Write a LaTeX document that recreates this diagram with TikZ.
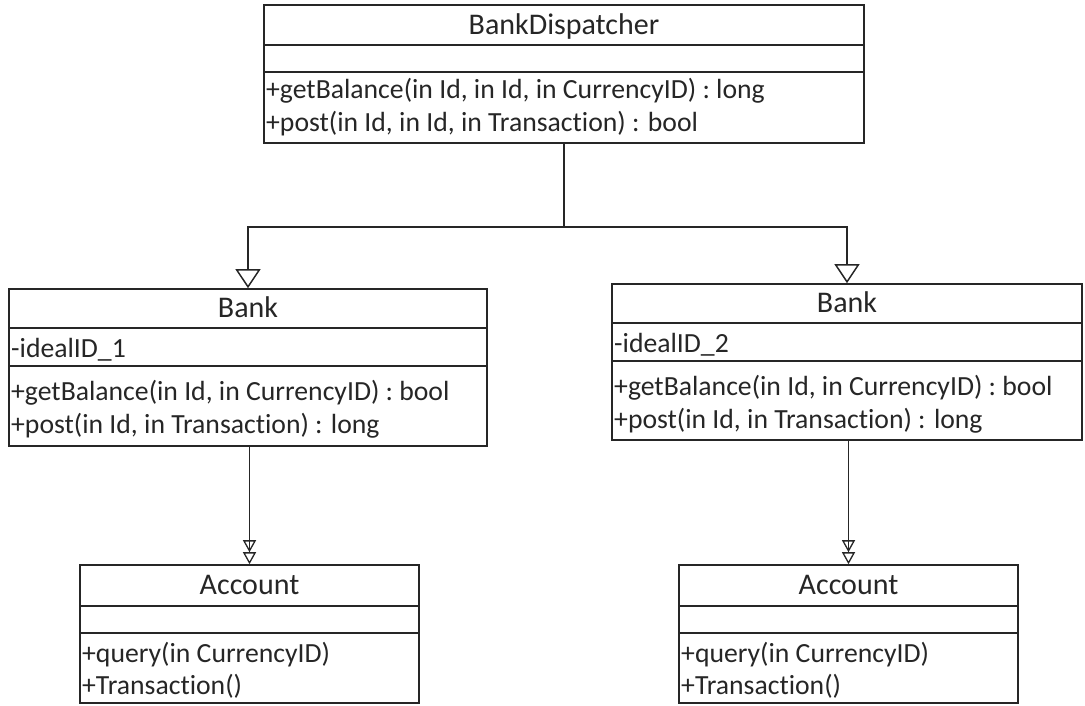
\documentclass[tikz,border=0pt]{standalone}
\usepackage{fontspec}
\setmainfont{Carlito}[Ligatures={NoCommon}]
\usetikzlibrary{arrows.meta}
\definecolor{ink}{HTML}{262626}
\tikzset{
  classbox/.style={draw=ink, line width=1.6pt, rectangle, inner sep=0pt},
  divider/.style={draw=ink, line width=1.4pt},
  title/.style={anchor=base, text=ink, inner sep=0pt, font=\fontsize{30}{34}\selectfont},
  member/.style={anchor=base west, text=ink, inner sep=0pt, font=\fontsize{27.7}{32}\selectfont},
  link/.style={draw=ink, line width=1.5pt},
  general/.style={link, -{Triangle[open, length=19pt, width=25pt, line width=1.5pt]}},
  realize/.style={link, -{Triangle[open, length=12pt, width=13pt, line width=1.3pt, sep=0pt]Triangle[open, length=12pt, width=13pt, line width=1.3pt]}}
}
\begin{document}
\begin{tikzpicture}[x=1pt, y=-1pt]
\useasboundingbox (0,0) rectangle (1085,705);

% BankDispatcher class
\node[classbox, minimum width=600pt, minimum height=138pt] (bd) at (564,74) {};
\draw[divider] (bd.west |- 0,45) -- (bd.east |- 0,45);
\draw[divider] (bd.west |- 0,72) -- (bd.east |- 0,72);
\node[title] (bdname) at (564,34) {BankDispatcher};
\node[member] (bdm1) at (266,98) {+getBalance(in Id, in Id, in CurrencyID) : long};
\node[member] (bdm2) at (266,131) {+post(in Id, in Id, in Transaction) : bool};

% Bank class, first instance
\node[classbox, minimum width=478pt, minimum height=157pt] (bank1) at (248,367.5) {};
\draw[divider] (bank1.west |- 0,328) -- (bank1.east |- 0,328);
\draw[divider] (bank1.west |- 0,366) -- (bank1.east |- 0,366);
\node[title] (b1name) at (248,317) {Bank};
\node[member] (b1a) at (11,357) {-idealID\_1};
\node[member] (b1m1) at (11,400) {+getBalance(in Id, in CurrencyID) : bool};
\node[member] (b1m2) at (11,433) {+post(in Id, in Transaction) : long};

% Bank class, second instance
\node[classbox, minimum width=470pt, minimum height=156pt] (bank2) at (847,362) {};
\draw[divider] (bank2.west |- 0,323) -- (bank2.east |- 0,323);
\draw[divider] (bank2.west |- 0,361) -- (bank2.east |- 0,361);
\node[title] (b2name) at (847,312) {Bank};
\node[member] (b2a) at (614,352) {-idealID\_2};
\node[member] (b2m1) at (614,395) {+getBalance(in Id, in CurrencyID) : bool};
\node[member] (b2m2) at (614,428) {+post(in Id, in Transaction) : long};

% Account class, first instance
\node[classbox, minimum width=339pt, minimum height=138pt] (acc1) at (249.5,634) {};
\draw[divider] (acc1.west |- 0,606) -- (acc1.east |- 0,606);
\draw[divider] (acc1.west |- 0,633) -- (acc1.east |- 0,633);
\node[title] (a1name) at (249.5,594) {Account};
\node[member] (a1m1) at (82,662) {+query(in CurrencyID)};
\node[member] (a1m2) at (82,694) {+Transaction()};

% Account class, second instance
\node[classbox, minimum width=339pt, minimum height=138pt] (acc2) at (848.5,634) {};
\draw[divider] (acc2.west |- 0,606) -- (acc2.east |- 0,606);
\draw[divider] (acc2.west |- 0,633) -- (acc2.east |- 0,633);
\node[title] (a2name) at (848.5,594) {Account};
\node[member] (a2m1) at (681,662) {+query(in CurrencyID)};
\node[member] (a2m2) at (681,694) {+Transaction()};

% generalisation tree from the dispatcher to both banks
\coordinate (split) at (564,227);
\draw[link] (bd.south) -- (split);
\draw[general] (split) -| (bank1.north);
\draw[general] (split) -| (bank2.north);

% bank to account links
\draw[realize] (bank1.south -| acc1.north) -- (acc1.north);
\draw[realize] (bank2.south -| acc2.north) -- (acc2.north);
\end{tikzpicture}
\end{document}
